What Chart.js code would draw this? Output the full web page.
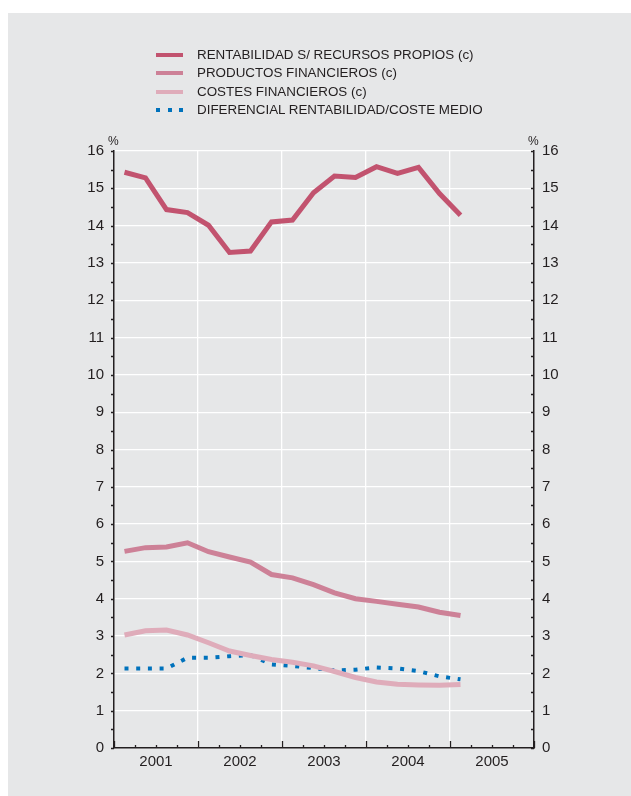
<!DOCTYPE html>
<html>
<head>
<meta charset="utf-8">
<script src="https://cdn.jsdelivr.net/npm/chart.js@4/dist/chart.umd.min.js"></script>
<style>
  html, body { margin: 0; padding: 0; background: #ffffff; }
  body { width: 631px; height: 796px; position: relative; overflow: hidden; font-family: "Liberation Sans", Arial, sans-serif; }
  #panel { position: absolute; left: 8px; top: 13px; width: 623px; height: 783px; background: #e6e7e8; }
  #wrap { position: absolute; left: 0; top: 0; width: 631px; height: 796px; }
  #legend { position: absolute; left: 156px; top: 46px; color: #231f20; font-size: 13.4px; }
  .row { position: relative; height: 18.4px; line-height: 18px; white-space: nowrap; }
  .sw { position: absolute; left: 0; top: 7px; width: 27px; height: 4px; }
  .txt { position: absolute; left: 41px; top: 0; }
  .dot { position: absolute; top: 7px; width: 4px; height: 4px; background: #0072bc; }
  .pct { position: absolute; font-size: 12px; color: #231f20; }
</style>
</head>
<body>
<div id="panel"></div>
<div id="wrap"><canvas id="c" width="631" height="796"></canvas></div>
<div id="legend"></div>
<div class="pct" style="left:108px; top:134px;">%</div>
<div class="pct" style="left:528px; top:134px;">%</div>
<script>
// ---- Data (quarterly, 2001 Q1 .. 2005 Q1) ----
const years = ['2001', '2002', '2003', '2004', '2005'];
const quarters = ['I-01','II-01','III-01','IV-01','I-02','II-02','III-02','IV-02','I-03','II-03','III-03','IV-03','I-04','II-04','III-04','IV-04','I-05'];
const seriesNames = ['RENTABILIDAD S/ RECURSOS PROPIOS (c)', 'PRODUCTOS FINANCIEROS (c)', 'COSTES FINANCIEROS (c)', 'DIFERENCIAL RENTABILIDAD/COSTE MEDIO'];
const rentabilidad = [15.43, 15.28, 14.43, 14.35, 14.01, 13.28, 13.32, 14.10, 14.15, 14.88, 15.33, 15.29, 15.58, 15.40, 15.56, 14.86, 14.28];
const productos = [5.27, 5.37, 5.39, 5.50, 5.26, 5.12, 4.98, 4.65, 4.56, 4.38, 4.16, 4.00, 3.93, 3.85, 3.78, 3.64, 3.55];
const costes = [3.03, 3.14, 3.16, 3.03, 2.82, 2.60, 2.48, 2.37, 2.30, 2.20, 2.05, 1.89, 1.77, 1.71, 1.69, 1.68, 1.70];
const diferencial = [2.13, 2.13, 2.13, 2.42, 2.42, 2.46, 2.49, 2.24, 2.20, 2.14, 2.08, 2.10, 2.16, 2.13, 2.06, 1.92, 1.84];
const yTicks = [0, 1, 2, 3, 4, 5, 6, 7, 8, 9, 10, 11, 12, 13, 14, 15, 16];

const colors = ['#c2536f', '#cd8197', '#dfacba', '#0072bc'];
const ink = '#231f20';

// points sit in the middle of each quarter slot
const toPts = arr => arr.map((v, i) => ({ x: i + 0.5, y: v }));

// HTML legend
const leg = document.getElementById('legend');
seriesNames.forEach((name, i) => {
  const row = document.createElement('div');
  row.className = 'row';
  if (i < 3) {
    const sw = document.createElement('div');
    sw.className = 'sw';
    sw.style.background = colors[i];
    row.appendChild(sw);
  } else {
    [0, 12, 23].forEach(l => {
      const d = document.createElement('div');
      d.className = 'dot';
      d.style.left = l + 'px';
      row.appendChild(d);
    });
  }
  const t = document.createElement('div');
  t.className = 'txt';
  t.textContent = name;
  row.appendChild(t);
  leg.appendChild(row);
});

const tickPlugin = {
  id: 'tickMarks',
  afterDraw(chart) {
    const ctx = chart.ctx;
    const x = chart.scales.x, y = chart.scales.y;
    ctx.save();
    ctx.strokeStyle = ink;
    ctx.lineWidth = 1.3;
    for (let v = 0; v <= 16; v += 0.5) {
      const py = Math.round(y.getPixelForValue(v)) + 0.5;
      ctx.beginPath();
      ctx.moveTo(x.left - 3, py); ctx.lineTo(x.left, py);
      ctx.moveTo(x.right - 3, py); ctx.lineTo(x.right, py);
      ctx.stroke();
    }
    for (let q = 0; q <= 20; q++) {
      const px = Math.round(x.getPixelForValue(q)) + 0.5;
      const len = (q % 4 === 0) ? 7 : 3;
      ctx.beginPath();
      ctx.moveTo(px, y.bottom); ctx.lineTo(px, y.bottom - len);
      ctx.stroke();
    }
    ctx.restore();
  }
};

const font = { family: '"Liberation Sans", Arial, sans-serif', size: 15 };

new Chart(document.getElementById('c'), {
  type: 'line',
  data: {
    datasets: [
      { label: seriesNames[1], data: toPts(productos), borderColor: colors[1], borderWidth: 5, yAxisID: 'y' },
      { label: seriesNames[2], data: toPts(costes), borderColor: colors[2], borderWidth: 5, yAxisID: 'y' },
      { label: seriesNames[3], data: toPts(diferencial), borderColor: colors[3], borderWidth: 4, borderDash: [4, 7.7], borderCapStyle: 'butt', yAxisID: 'y' },
      { label: seriesNames[0], data: toPts(rentabilidad), borderColor: colors[0], borderWidth: 5, yAxisID: 'y' }
    ]
  },
  options: {
    responsive: false,
    animation: false,
    devicePixelRatio: 1,
    layout: { padding: { top: 151, left: 0, right: 0, bottom: 0 } },
    elements: { point: { radius: 0 }, line: { tension: 0, fill: false, borderJoinStyle: 'miter' } },
    plugins: { legend: { display: false }, tooltip: { enabled: false } },
    scales: {
      x: {
        type: 'linear', min: 0, max: 20,
        afterFit: s => { s.height = 48; },
        ticks: {
          stepSize: 1, autoSkip: false, maxRotation: 0, padding: 5,
          color: ink, font: font,
          callback: v => (v % 4 === 2) ? years[(v - 2) / 4] : ''
        },
        grid: {
          drawTicks: false,
          lineWidth: 1.3,
          color: c => (c.tick && c.tick.value % 4 === 0 && c.tick.value > 0 && c.tick.value < 20) ? '#ffffff' : 'rgba(0,0,0,0)'
        },
        border: { display: true, color: ink, width: 1.5 }
      },
      y: {
        position: 'left', min: 0, max: 16,
        afterFit: s => { s.width = 114; },
        afterBuildTicks: s => { s.ticks = yTicks.map(v => ({ value: v })); },
        ticks: { padding: 10, color: ink, font: font },
        grid: {
          drawTicks: false, lineWidth: 1.3,
          color: c => (c.tick && c.tick.value > 0) ? '#ffffff' : 'rgba(0,0,0,0)'
        },
        border: { display: true, color: ink, width: 1.5 }
      },
      y2: {
        position: 'right', min: 0, max: 16,
        afterFit: s => { s.width = 97; },
        afterBuildTicks: s => { s.ticks = yTicks.map(v => ({ value: v })); },
        ticks: { padding: 8, color: ink, font: font },
        grid: { display: false, drawTicks: false },
        border: { display: true, color: ink, width: 1.5 }
      }
    }
  },
  plugins: [tickPlugin]
});
</script>
</body>
</html>
